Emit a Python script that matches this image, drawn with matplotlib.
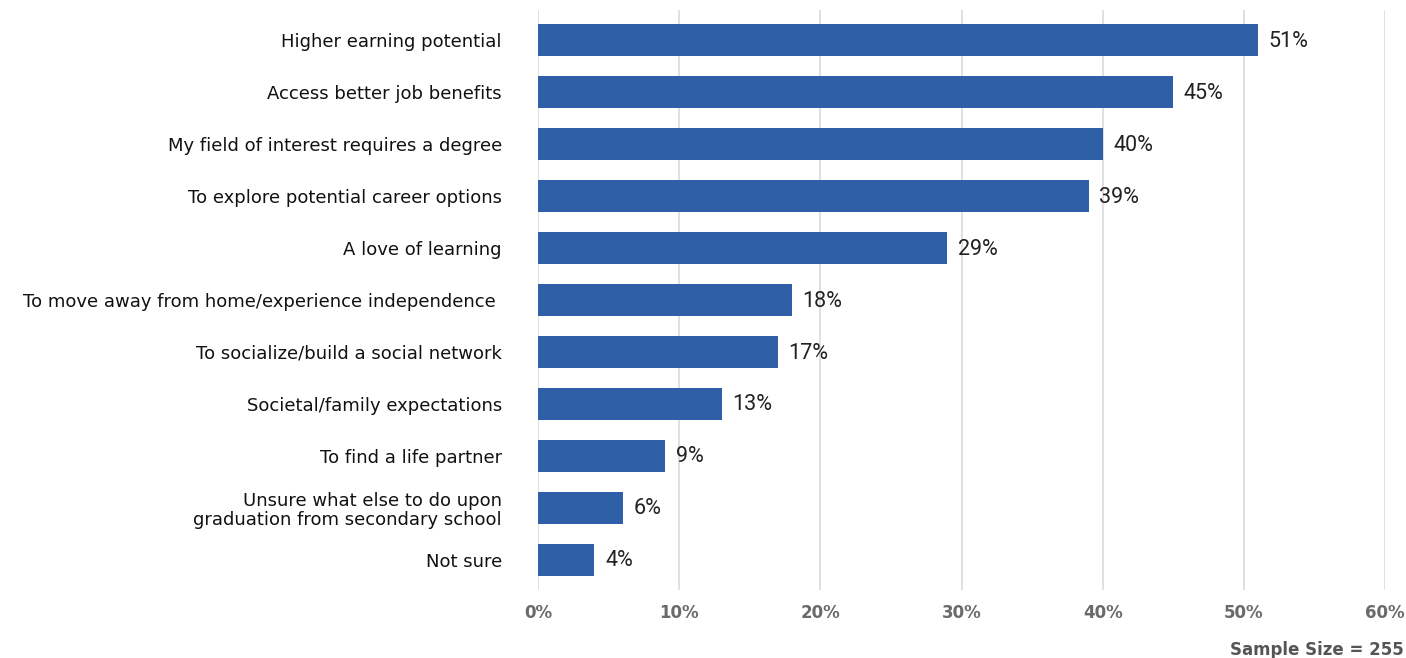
import numpy as np
import matplotlib.pyplot as plt

categories = [
    "Higher earning potential",
    "Access better job benefits",
    "My field of interest requires a degree",
    "To explore potential career options",
    "A love of learning",
    "To move away from home/experience independence ",
    "To socialize/build a social network",
    "Societal/family expectations",
    "To find a life partner",
    "Unsure what else to do upon\ngraduation from secondary school",
    "Not sure",
]
values = [51, 45, 40, 39, 29, 18, 17, 13, 9, 6, 4]
xticks = [0, 10, 20, 30, 40, 50, 60]

bar_color = "#2f5fa7"

fig = plt.figure(figsize=(14.06, 6.58), dpi=100)
ax = fig.add_axes([538 / 1406, 1 - 590 / 658, (1385 - 538) / 1406, 580 / 658])

y = np.arange(len(categories))
ax.barh(y, values, height=0.62, color=bar_color, zorder=3)
ax.set_ylim(len(categories) - 0.42, -0.58)
ax.set_xlim(0, 60)

for yi, v in zip(y, values):
    ax.text(v + 0.75, yi + 0.02, f"{v}%", va="center", ha="left", fontsize=15.5,
            family="Roboto", color="#222222")

ax.set_yticks(y)
ax.set_yticklabels(categories, fontsize=13.0, color="#111111", linespacing=1.05)
ax.set_xticks(xticks)
ax.set_xticklabels([f"{t}%" for t in xticks], fontsize=12, color="#6a6a6a",
                   fontweight="semibold")
ax.tick_params(axis="y", length=0, pad=26)
ax.tick_params(axis="x", length=0, pad=10)

ax.grid(axis="x", color="#dddddd", linewidth=1.3, zorder=0)
for s in ax.spines.values():
    s.set_visible(False)

fig.text(1404 / 1406, 1 - 650 / 658, "Sample Size = 255", ha="right", va="center",
         fontsize=12, color="#555555", fontweight="semibold")

fig.savefig("out.png", dpi=100)
